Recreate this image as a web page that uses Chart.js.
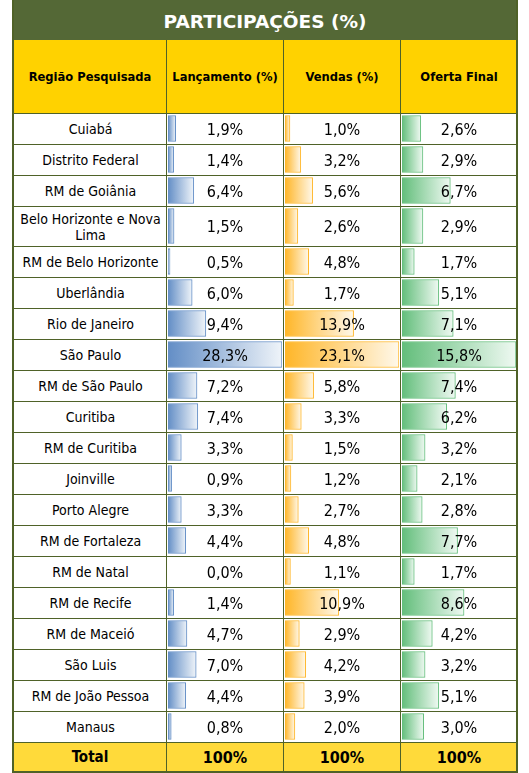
<!DOCTYPE html>
<html lang="pt">
  <head>
    <meta charset="UTF-8" />
    <meta name="viewport" content="width=device-width, initial-scale=1.0" />
    <title>Participações (%)</title>
    <script src="https://cdn.jsdelivr.net/npm/chart.js"></script>
    <style>
      body { margin: 0; background: #fff; }
      #quadro {
        position: relative;
        width: 529px;
        height: 773px;
        overflow: hidden;
        font-family: 'DejaVu Sans Condensed', 'DejaVu Sans', sans-serif;
        color: #000;
      }
      .caixa {
        position: absolute;
        box-sizing: border-box;
        display: flex;
        align-items: center;
        justify-content: center;
        text-align: center;
        line-height: 19px;
      }
      canvas { position: absolute; z-index: 1; }
    </style>
  </head>

  <body>
    <div id="quadro"></div>

    <script>
      const titulo = 'PARTICIPAÇÕES (%)';
      const cabecalhos = ['Região Pesquisada', 'Lançamento (%)', 'Vendas (%)', 'Oferta Final'];
      const regioes = [
        'Cuiabá', 'Distrito Federal', 'RM de Goiânia', 'Belo Horizonte e Nova Lima',
        'RM de Belo Horizonte', 'Uberlândia', 'Rio de Janeiro', 'São Paulo',
        'RM de São Paulo', 'Curitiba', 'RM de Curitiba', 'Joinville', 'Porto Alegre',
        'RM de Fortaleza', 'RM de Natal', 'RM de Recife', 'RM de Maceió', 'São Luis',
        'RM de João Pessoa', 'Manaus',
      ];
      const lancamento = [1.9, 1.4, 6.4, 1.5, 0.5, 6.0, 9.4, 28.3, 7.2, 7.4, 3.3, 0.9, 3.3, 4.4, 0.0, 1.4, 4.7, 7.0, 4.4, 0.8];
      const vendas = [1.0, 3.2, 5.6, 2.6, 4.8, 1.7, 13.9, 23.1, 5.8, 3.3, 1.5, 1.2, 2.7, 4.8, 1.1, 10.9, 2.9, 4.2, 3.9, 2.0];
      const ofertaFinal = [2.6, 2.9, 6.7, 2.9, 1.7, 5.1, 7.1, 15.8, 7.4, 6.2, 3.2, 2.1, 2.8, 7.7, 1.7, 8.6, 4.2, 3.2, 5.1, 3.0];
      const totais = ['Total', '100%', '100%', '100%'];

      // layout da tabela (pixels)
      const colunasX = [13, 166, 283, 400, 517];
      const TOPO_CABECALHO = 40;
      const TOPO_DADOS = 113;
      const LINHA = 31;
      const LINHA_DUPLA = 40;
      const VERDE = '#546836';
      const GRADE = '#4f6228';
      const FONTE_NOME = '14px "DejaVu Sans Condensed", "DejaVu Sans", sans-serif';
      const FONTE_VALOR = '16px "DejaVu Sans Condensed", "DejaVu Sans", sans-serif';

      const quadro = document.getElementById('quadro');

      function caixa(x, y, w, h, css, texto) {
        const d = document.createElement('div');
        d.className = 'caixa';
        Object.assign(d.style, { left: x + 'px', top: y + 'px', width: w + 'px', height: h + 'px' }, css);
        if (texto != null) d.textContent = texto;
        quadro.appendChild(d);
        return d;
      }

      const formata = (v) => v.toFixed(1).replace('.', ',') + '%';

      // altura de cada linha: dupla quando o nome não cabe numa linha
      const medidor = document.createElement('canvas').getContext('2d');
      medidor.font = FONTE_NOME;
      const larguraNome = colunasX[1] - colunasX[0] - 4;
      const alturas = regioes.map((r) => (medidor.measureText(r).width > larguraNome ? LINHA_DUPLA : LINHA));
      const topos = [];
      alturas.reduce((y, h) => { topos.push(y); return y + h; }, TOPO_DADOS);
      const FIM_DADOS = topos[topos.length - 1] + alturas[alturas.length - 1];
      const ALTURA_DADOS = FIM_DADOS - TOPO_DADOS;

      // fundos e textos
      const larguraTotal = colunasX[4] - colunasX[0];
      caixa(colunasX[0], 0, larguraTotal, TOPO_CABECALHO,
        { background: VERDE, color: '#fff', font: 'bold 18.5px "DejaVu Sans", sans-serif', paddingTop: '2px', zIndex: 2 }, titulo);
      caixa(colunasX[0], TOPO_CABECALHO, larguraTotal, TOPO_DADOS - TOPO_CABECALHO, { background: '#ffd200' });
      caixa(colunasX[0], FIM_DADOS, larguraTotal, 773 - FIM_DADOS, { background: '#ffda3a' });

      for (let c = 0; c < 4; c++) {
        const x = colunasX[c] + 1;
        const w = colunasX[c + 1] - colunasX[c] - 1;
        caixa(x, TOPO_CABECALHO, w, TOPO_DADOS - TOPO_CABECALHO,
          { font: 'bold 12.8px "DejaVu Sans Condensed", "DejaVu Sans", sans-serif', zIndex: 2 }, cabecalhos[c]);
        caixa(x, FIM_DADOS + 1, w, 773 - FIM_DADOS - 3,
          { font: c === 0 ? 'bold 15px "DejaVu Sans Condensed", "DejaVu Sans", sans-serif' : 'bold 16px "DejaVu Sans Condensed", "DejaVu Sans", sans-serif', zIndex: 2 }, totais[c]);
      }

      const colunasValores = [lancamento, vendas, ofertaFinal];
      regioes.forEach((nome, i) => {
        const y = topos[i] + 1;
        const h = alturas[i] - 1;
        caixa(colunasX[0] + 2, y, colunasX[1] - colunasX[0] - 2, h, { font: FONTE_NOME, zIndex: 2 }, nome);
        colunasValores.forEach((valores, c) => {
          caixa(colunasX[c + 1] + 1, y, colunasX[c + 2] - colunasX[c + 1] - 1, h, { font: FONTE_VALOR, zIndex: 2 }, formata(valores[i]));
        });
      });

      // grade
      const linha = (x, y, w, h) => caixa(x, y, w, h, { background: GRADE, zIndex: 3 });
      [TOPO_DADOS, ...topos.slice(1), FIM_DADOS].forEach((y) => linha(colunasX[0], y, larguraTotal, 1));
      colunasX.slice(1, 4).forEach((x) => linha(x, TOPO_CABECALHO, 1, 773 - TOPO_CABECALHO));
      linha(colunasX[0] - 1, 0, 2, 773);
      linha(colunasX[4] - 1, 0, 2, 773);
      linha(colunasX[0] - 1, 771, larguraTotal + 2, 2);

      // barras de dados, uma coluna por gráfico
      function misturaBranco(hex, t) {
        const n = parseInt(hex.slice(1), 16);
        const canal = (s) => Math.round(((n >> s) & 255) * (1 - t) + 255 * t);
        return `rgb(${canal(16)}, ${canal(8)}, ${canal(0)})`;
      }

      function desenhaColuna(c, valores, cor) {
        const canvas = document.createElement('canvas');
        const x0 = colunasX[c] + 2;
        const largura = colunasX[c + 1] - colunasX[c] - 3;
        canvas.width = largura;
        canvas.height = ALTURA_DADOS;
        canvas.style.left = x0 + 'px';
        canvas.style.top = TOPO_DADOS + 'px';
        quadro.appendChild(canvas);

        const pontos = valores.map((v, i) => ({ x: v, y: topos[i] - TOPO_DADOS + alturas[i] / 2 }));
        const corFinal = misturaBranco(cor, 0.9);
        const gradiente = (ctx) => {
          const chart = ctx.chart;
          if (!chart.chartArea || !ctx.raw) return cor;
          const escala = chart.scales.x;
          const a = escala.getPixelForValue(0);
          const b = escala.getPixelForValue(ctx.raw.x);
          if (b - a < 2) return cor;
          const g = chart.ctx.createLinearGradient(a, 0, b, 0);
          g.addColorStop(0, cor);
          g.addColorStop(1, corFinal);
          return g;
        };
        const estilo = {
          grouped: false,
          borderWidth: 1,
          borderSkipped: false,
          borderColor: cor,
          backgroundColor: gradiente,
        };

        new Chart(canvas, {
          type: 'bar',
          data: {
            datasets: [
              { ...estilo, data: pontos.filter((p, i) => alturas[i] === LINHA), barThickness: LINHA - 5 },
              { ...estilo, data: pontos.filter((p, i) => alturas[i] !== LINHA), barThickness: LINHA_DUPLA - 5 },
            ],
          },
          options: {
            indexAxis: 'y',
            responsive: false,
            animation: false,
            events: [],
            layout: { padding: 0 },
            scales: {
              x: { type: 'linear', min: 0, max: Math.max(...valores), display: false },
              y: { type: 'linear', min: 0, max: ALTURA_DADOS, reverse: true, offset: false, display: false },
            },
            plugins: { legend: { display: false }, tooltip: { enabled: false }, colors: { enabled: false } },
          },
        });
      }

      desenhaColuna(1, lancamento, '#638ec6');
      desenhaColuna(2, vendas, '#ffb628');
      desenhaColuna(3, ofertaFinal, '#63be7b');
    </script>
  </body>
</html>
